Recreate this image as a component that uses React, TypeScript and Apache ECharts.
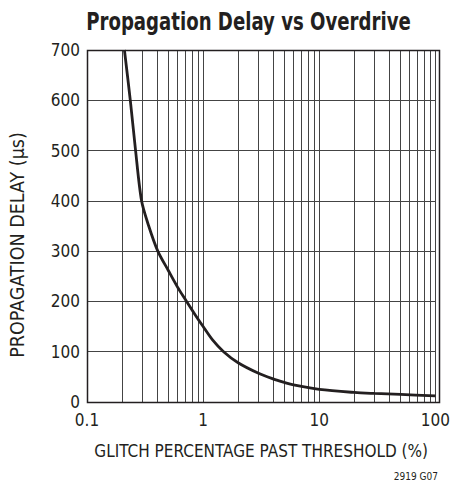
import React, { useEffect, useRef } from "react";
import * as echarts from "echarts";

const overdrive = [0.21, 0.236, 0.262, 0.295, 0.34, 0.407, 0.5, 0.6, 0.72, 0.85, 1, 1.2, 1.5, 2, 3, 4, 5, 6, 10, 20, 30, 50, 100];
const delay = [700, 600, 500, 400, 350, 300, 262, 229, 200, 174, 150, 124, 100, 78, 57, 46, 39, 34, 25, 19, 17, 15, 12];
const minorGrid = [0.2, 0.3, 0.4, 0.5, 0.6, 0.7, 0.8, 0.9, 2, 3, 4, 5, 6, 7, 8, 9, 20, 30, 40, 50, 60, 70, 80, 90];
const yTicks = [0, 100, 200, 300, 400, 500, 600, 700];

const FONT = "'Liberation Sans Narrow', 'DejaVu Sans Condensed', 'Roboto', sans-serif";
const INK = "#231f20";

export default function App() {
  const ref = useRef<HTMLDivElement>(null);
  useEffect(() => {
    if (!ref.current) return;
    const chart = echarts.init(ref.current, null, { renderer: "svg" });
    chart.setOption({
      animation: false,
      backgroundColor: "#fff",
      grid: { left: 87, top: 50, width: 352, height: 352, containLabel: false },
      xAxis: {
        type: "log",
        logBase: 10,
        min: 0.1,
        max: 100,
        name: "GLITCH PERCENTAGE PAST THRESHOLD (%)",
        nameLocation: "middle",
        nameGap: 40,
        nameTextStyle: { fontFamily: FONT, fontSize: 17, color: INK },
        axisLine: { show: false },
        axisTick: { show: false },
        axisLabel: {
          fontFamily: FONT,
          fontSize: 17,
          color: INK,
          margin: 9,
          formatter: (v: number) => String(v),
        },
        splitLine: { show: true, lineStyle: { color: "#444", width: 1 } },
      },
      yAxis: {
        type: "value",
        min: yTicks[0],
        max: yTicks[yTicks.length - 1],
        interval: 100,
        axisLine: { show: false },
        axisTick: { show: false },
        axisLabel: { fontFamily: FONT, fontSize: 17, color: INK, margin: 7 },
        splitLine: { show: true, lineStyle: { color: "#444", width: 1 } },
      },
      graphic: [
        {
          type: "text",
          x: 248.5,
          y: 21,
          scaleX: 0.84,
          style: {
            text: "Propagation Delay vs Overdrive",
            fontFamily: FONT,
            fontWeight: "bold",
            fontSize: 24,
            fill: INK,
            textAlign: "center",
            textVerticalAlign: "middle",
          },
        },
        {
          type: "text",
          x: 17,
          y: 245,
          rotation: Math.PI / 2,
          style: {
            text: "PROPAGATION DELAY (µs)",
            fontFamily: FONT,
            fontSize: 19.5,
            fill: INK,
            textAlign: "center",
            textVerticalAlign: "middle",
          },
        },
        {
          type: "text",
          x: 438,
          y: 476,
          style: {
            text: "2919 G07",
            fontFamily: FONT,
            fontSize: 10,
            fill: INK,
            textAlign: "right",
            textVerticalAlign: "middle",
          },
        },
        {
          type: "rect",
          shape: { x: 87.5, y: 50.5, width: 352, height: 352 },
          style: { fill: "none", stroke: INK, lineWidth: 1.5 },
          z: 100,
        },
      ],
      series: [
        {
          type: "line",
          data: overdrive.map((x, i) => [x, delay[i]]),
          smooth: 0.3,
          symbol: "none",
          lineStyle: { color: INK, width: 2.8 },
          z: 10,
          markLine: {
            silent: true,
            symbol: "none",
            label: { show: false },
            lineStyle: { color: "#444", width: 1, type: "solid" },
            data: minorGrid.map((x) => ({ xAxis: x })),
            z: 1,
          },
        },
      ],
    });
    return () => chart.dispose();
  }, []);
  return (
    <div
      ref={ref}
      style={{ position: "absolute", left: 0, top: 0, width: 453, height: 485 }}
    />
  );
}
